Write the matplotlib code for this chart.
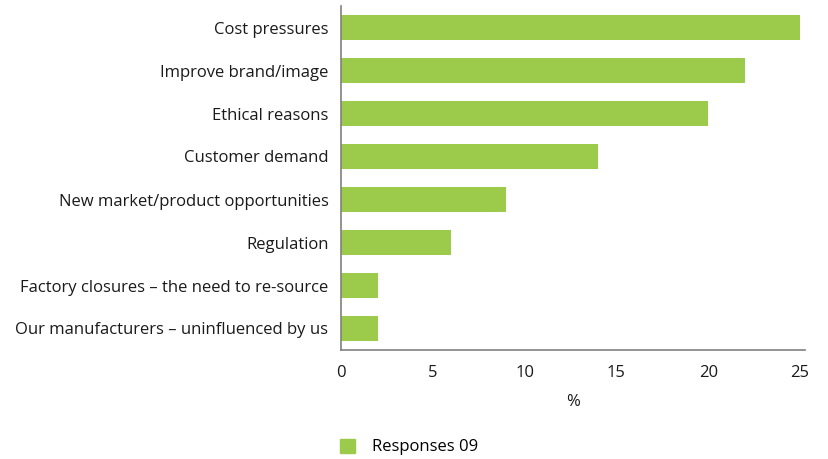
import matplotlib
matplotlib.use("Agg")
import matplotlib.pyplot as plt
from matplotlib.patches import Patch

categories = ["Cost pressures", "Improve brand/image", "Ethical reasons", "Customer demand",
              "New market/product opportunities", "Regulation",
              "Factory closures – the need to re-source", "Our manufacturers – uninfluenced by us"]
values = [25, 22, 20, 14, 9, 6, 2, 2]
xticks = [0, 5, 10, 15, 20, 25]
series_name = "Responses 09"

plt.rcParams['font.family'] = ['Open Sans', 'DejaVu Sans']
color = "#9ccb4b"
fs = 12
fig = plt.figure(figsize=(8.29, 4.59), dpi=100)
ax = fig.add_axes([341/829, 1-350/459, (805-341)/829, (350-6)/459])
y = list(range(len(categories)))
ax.barh(y, values, height=0.56, color=color)
ax.set_ylim(len(categories)-0.5, -0.5)
ax.set_xlim(0, 25.27)
ax.set_yticks(y)
ax.set_yticklabels(categories, fontsize=fs, color="#1a1a1a")
ax.set_xticks(xticks)
ax.set_xticklabels([str(t) for t in xticks], fontsize=fs, color="#1a1a1a")
ax.tick_params(axis='both', length=0)
ax.tick_params(axis='y', pad=9)
ax.tick_params(axis='x', pad=11)
for s in ["top", "right"]:
    ax.spines[s].set_visible(False)
for s in ["left", "bottom"]:
    ax.spines[s].set_color("#808080")
    ax.spines[s].set_linewidth(1.2)
ax.set_xlabel("%", fontsize=fs, color="#1a1a1a", labelpad=9)
fig.legend(handles=[Patch(color=color, label=series_name)], loc="center left",
           bbox_to_anchor=(340/829, 1-447/459), frameon=False, fontsize=fs,
           handlelength=0.9, handleheight=0.9, handletextpad=1.0,
           borderpad=0, borderaxespad=0)
fig.savefig("out.png", dpi=100)
